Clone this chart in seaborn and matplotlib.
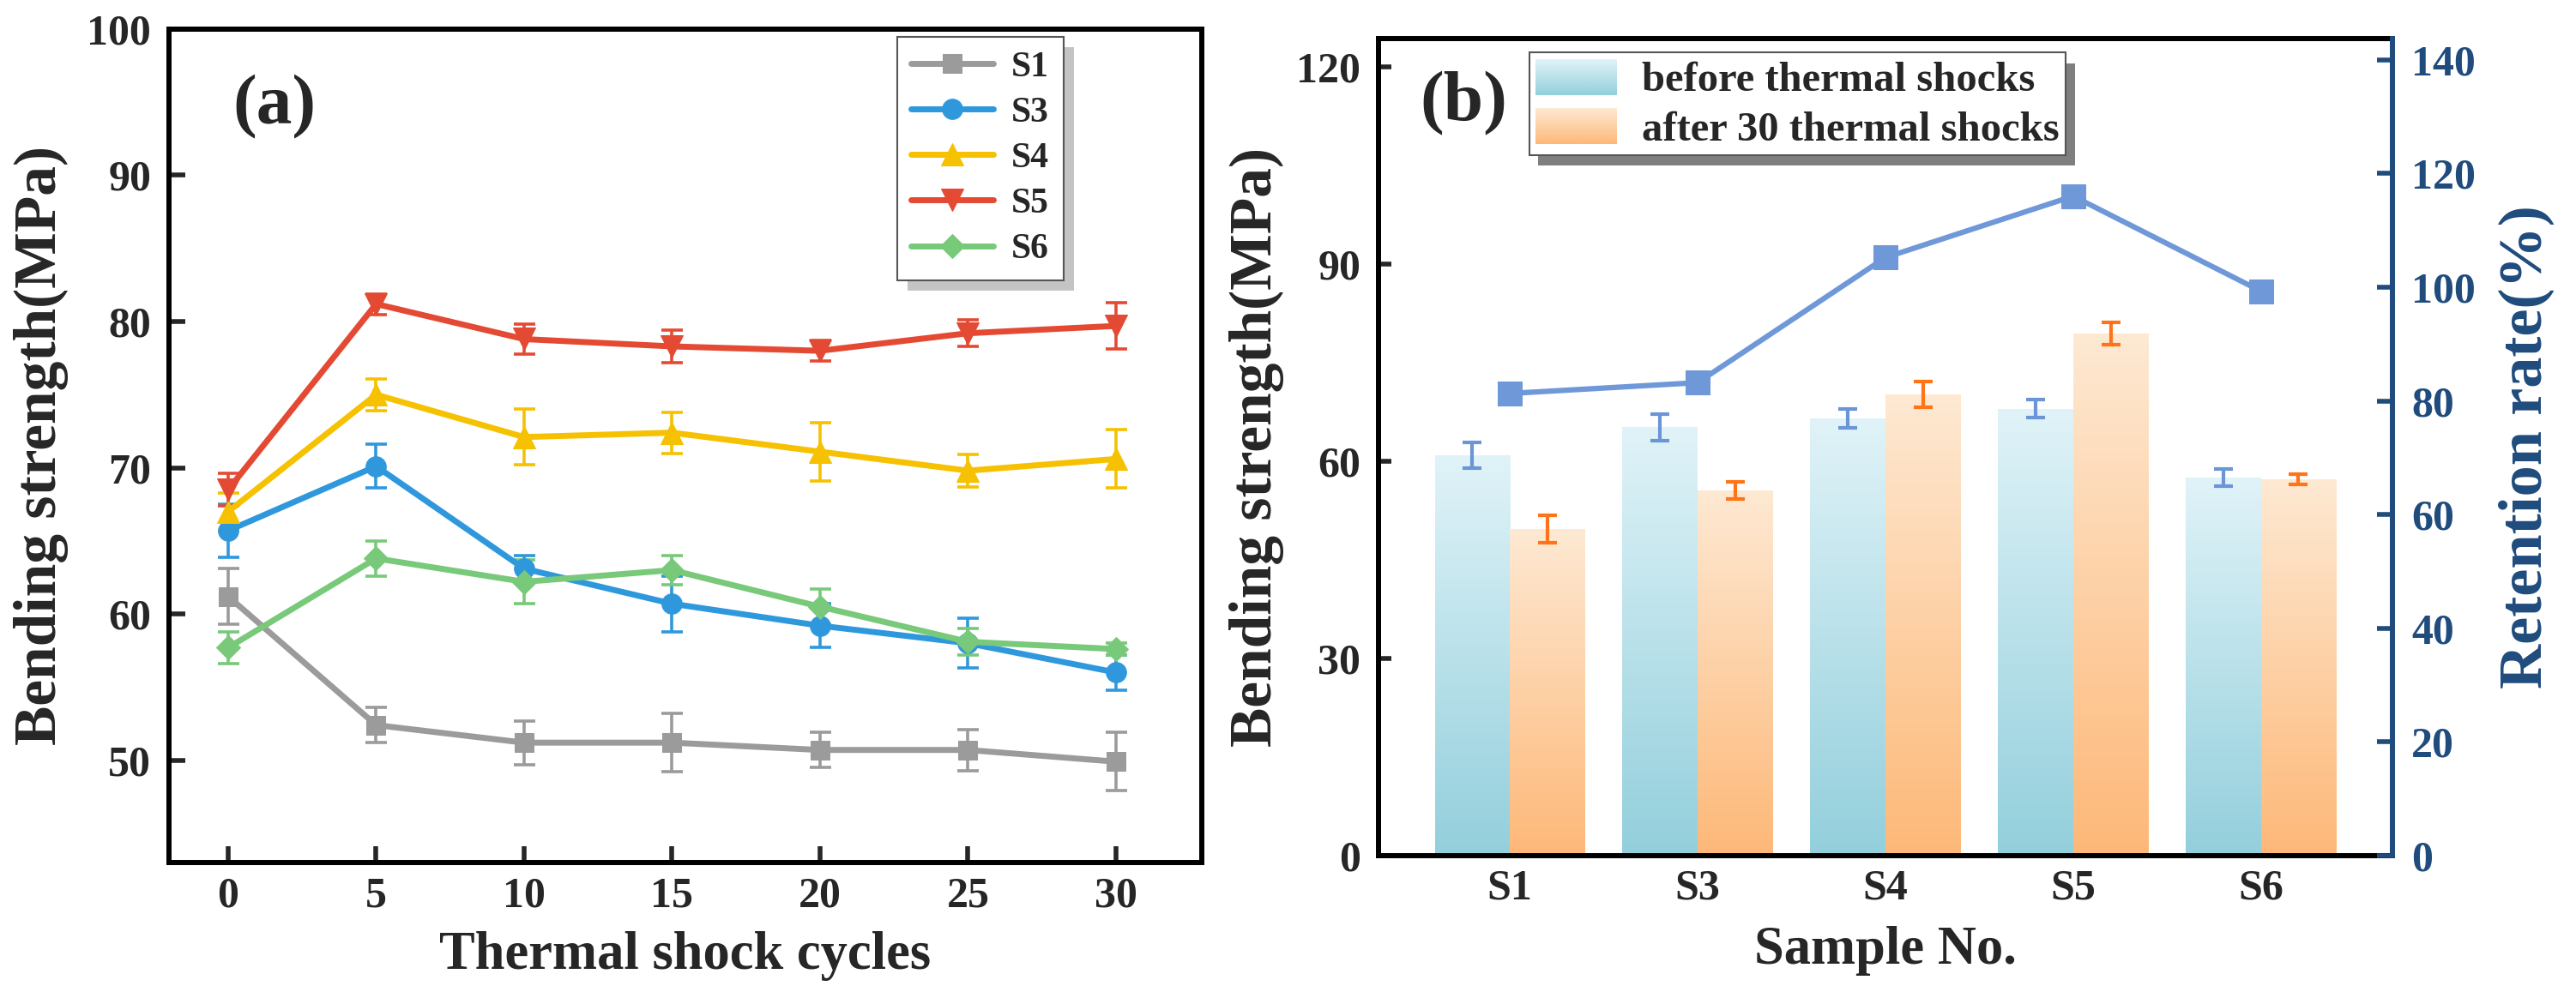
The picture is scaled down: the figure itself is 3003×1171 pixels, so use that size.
import numpy as np
import pandas as pd
import matplotlib
matplotlib.use("Agg")
import matplotlib.pyplot as plt
import seaborn as sns
from matplotlib.colors import LinearSegmentedColormap
from matplotlib.legend_handler import HandlerBase
from matplotlib.image import BboxImage
from matplotlib.transforms import Bbox, TransformedBbox
from matplotlib.patches import Patch

# ---- (a) bending strength vs thermal shock cycles ----
cycles = [0, 5, 10, 15, 20, 25, 30]
s1 = [61.2, 52.4, 51.2, 51.2, 50.7, 50.7, 49.9]
s1_err = [1.9, 1.2, 1.5, 2.0, 1.2, 1.4, 2.0]
s3 = [65.7, 70.1, 63.1, 60.7, 59.2, 58.0, 56.0]
s3_err = [1.8, 1.5, 0.9, 1.9, 1.5, 1.7, 1.2]
s4 = [67.0, 75.0, 72.1, 72.4, 71.1, 69.8, 70.6]
s4_err = [1.3, 1.1, 1.9, 1.4, 2.0, 1.1, 2.0]
s5 = [68.5, 81.2, 78.8, 78.3, 78.0, 79.2, 79.7]
s5_err = [1.1, 0.7, 1.0, 1.1, 0.7, 0.9, 1.6]
s6 = [57.7, 63.8, 62.2, 63.0, 60.5, 58.1, 57.6]
s6_err = [1.1, 1.2, 1.5, 1.0, 1.2, 0.9, 0.4]

# ---- (b) before / after 30 shocks + retention rate ----
samples = ["S1", "S3", "S4", "S5", "S6"]
before = [60.9, 65.2, 66.5, 68.0, 57.5]
before_err = [2.0, 2.0, 1.4, 1.4, 1.3]
after = [49.7, 55.6, 70.2, 79.5, 57.3]
after_err = [2.1, 1.3, 2.0, 1.7, 0.8]
retention = [81.3, 83.2, 105.2, 116.0, 99.3]

sns.set_theme(style="ticks")
plt.rcParams["font.family"] = ["Liberation Serif", "DejaVu Serif"]
plt.rcParams["font.weight"] = "bold"
plt.rcParams["axes.labelweight"] = "bold"

navy = "#1f4b7d"

fig = plt.figure(figsize=(30.03, 11.71), dpi=100)
ax_a = fig.add_axes([0.0656, 0.1409, 0.4009, 0.8301])
ax_b = fig.add_axes([0.5351, 0.1477, 0.3936, 0.8138])

# ---------------- panel (a) ----------------
series = [("S1", s1, s1_err, "#9b9b9b", "s", 16),
          ("S3", s3, s3_err, "#2f98dd", "o", 17),
          ("S4", s4, s4_err, "#f6c100", "^", 19),
          ("S5", s5, s5_err, "#e44a33", "v", 19),
          ("S6", s6, s6_err, "#78c97a", "D", 14)]
for name, vals, err, c, m, ms in series:
    ax_a.errorbar(cycles, vals, yerr=err, fmt="none", ecolor=c, elinewidth=2.6,
                  capsize=9, capthick=2.6, zorder=2, label="_nolegend_")
    sns.lineplot(x=cycles, y=vals, ax=ax_a, color=c, marker=m, markersize=ms,
                 markeredgecolor=c, linewidth=5, label=name, zorder=3)

ax_a.set_xlim(-2, 32.9)
ax_a.set_ylim(43, 100)
ax_a.set_xticks(cycles)
ax_a.set_yticks([50, 60, 70, 80, 90, 100])
ax_a.tick_params(axis="both", direction="in", length=14, width=4, labelsize=36)
ax_a.tick_params(axis="y", pad=15)
ax_a.tick_params(axis="x", pad=12)
for sp in ax_a.spines.values():
    sp.set_linewidth(4.3)
    sp.set_color("black")
ax_a.set_xlabel("Thermal shock cycles", fontsize=45)
ax_a.set_ylabel("Bending strength(MPa)", fontsize=50)
ax_a.xaxis.set_label_coords(0.5, -0.082)
ax_a.yaxis.set_label_coords(-0.097, 0.5)
ax_a.text(0.102, 0.907, "(a)", transform=ax_a.transAxes, fontsize=60,
          fontweight="bold", ha="center", va="center")

leg_a = ax_a.legend(loc="upper left", bbox_to_anchor=(0.705, 0.991), borderaxespad=0,
                    frameon=True, fancybox=False, framealpha=1, edgecolor="#555555",
                    shadow={"ox": 9, "oy": -8.5, "facecolor": "#c4c4c4",
                            "edgecolor": "none", "alpha": 1},
                    prop={"size": 30, "weight": "bold"}, handlelength=2.3,
                    handletextpad=0.5, labelspacing=0.36, borderpad=0.4)
leg_a.get_frame().set_linewidth(1.5)

# ---------------- panel (b) ----------------
df_b = pd.DataFrame({
    "sample": samples * 2,
    "strength": before + after,
    "state": ["before"] * len(samples) + ["after"] * len(samples),
})
sns.barplot(data=df_b, x="sample", y="strength", hue="state", order=samples,
            hue_order=["before", "after"], errorbar=None, legend=False,
            width=0.8, saturation=1, ax=ax_b)

cmap_before = LinearSegmentedColormap.from_list("before", ["#93cfdc", "#e0f3f8"])
cmap_after = LinearSegmentedColormap.from_list("after", ["#fdb878", "#fee9d3"])
grad = np.linspace(0, 1, 256).reshape(-1, 1)

for container, cmap, err, ecol in [(ax_b.containers[0], cmap_before, before_err, "#6b95d6"),
                                   (ax_b.containers[1], cmap_after, after_err, "#ff7417")]:
    xs, hs = [], []
    for bar in container:
        x0, w, h = bar.get_x(), bar.get_width(), bar.get_height()
        im = ax_b.imshow(grad, cmap=cmap, origin="lower", aspect="auto",
                         extent=[x0, x0 + w, 0, h], interpolation="bicubic", zorder=1)
        im.set_clip_path(bar)
        bar.set_facecolor("none")
        bar.set_edgecolor("none")
        xs.append(x0 + w / 2)
        hs.append(h)
    ax_b.errorbar(xs, hs, yerr=err, fmt="none", ecolor=ecol, elinewidth=3,
                  capsize=8, capthick=3, zorder=3)

ax_b.set_xlim(-0.7, 4.7)
ax_b.set_ylim(0, 124.3)
ax_b.set_yticks([0, 30, 60, 90, 120])
ax_b.tick_params(axis="y", direction="in", length=11, width=4, labelsize=36, pad=15)
ax_b.tick_params(axis="x", length=0, labelsize=36, pad=11)
for sp in ax_b.spines.values():
    sp.set_linewidth(4.3)
    sp.set_color("black")
ax_b.spines["right"].set_visible(False)
ax_b.set_xlabel("Sample No.", fontsize=45)
ax_b.set_ylabel("Bending strength(MPa)", fontsize=50)
ax_b.xaxis.set_label_coords(0.5, -0.086)
ax_b.yaxis.set_label_coords(-0.093, 0.5)
ax_b.text(0.084, 0.921, "(b)", transform=ax_b.transAxes, fontsize=60,
          fontweight="bold", ha="center", va="center")


class GradientHandler(HandlerBase):
    def __init__(self, cmap):
        super().__init__()
        self.cmap = cmap

    def create_artists(self, legend, orig_handle, xdescent, ydescent,
                       width, height, fontsize, trans):
        bb = Bbox.from_bounds(-xdescent, -ydescent, width, height)
        img = BboxImage(TransformedBbox(bb, trans), cmap=self.cmap,
                        interpolation="bicubic", origin="lower")
        img.set_data(grad)
        return [img]


h_before = Patch(label="before thermal shocks")
h_after = Patch(label="after 30 thermal shocks")
leg_b = ax_b.legend(handles=[h_before, h_after],
                    handler_map={h_before: GradientHandler(cmap_before),
                                 h_after: GradientHandler(cmap_after)},
                    loc="upper left", bbox_to_anchor=(0.149, 0.983), borderaxespad=0,
                    frameon=True, fancybox=False, framealpha=1, edgecolor="#555555",
                    shadow={"ox": 7.5, "oy": -9, "facecolor": "#7f7f7f",
                            "edgecolor": "none", "alpha": 1},
                    prop={"size": 35, "weight": "bold"}, handlelength=1.95,
                    handleheight=0.95, handletextpad=0.6, labelspacing=0.2,
                    borderpad=0.15)
leg_b.get_frame().set_linewidth(1.5)

# retention rate on right axis
ax2 = ax_b.twinx()
sns.lineplot(x=np.arange(len(samples)), y=retention, ax=ax2, color="#6f98d8",
             marker="s", markersize=20, markeredgecolor="#6f98d8", linewidth=4.5,
             zorder=4)
ax2.set_ylim(0, 143.7)
ax2.set_yticks(range(0, 141, 20))
ax2.tick_params(axis="y", direction="in", length=13, width=4, labelsize=36,
                pad=16, colors=navy)
for side in ["left", "top", "bottom"]:
    ax2.spines[side].set_visible(False)
ax2.spines["right"].set_linewidth(4.3)
ax2.spines["right"].set_color(navy)
ax2.set_ylabel("Retention rate(%)", fontsize=52, color=navy)
ax2.yaxis.set_label_coords(1.105, 0.5)
ax_b.set_xlim(-0.7, 4.7)

fig.savefig("out.png", dpi=100)
